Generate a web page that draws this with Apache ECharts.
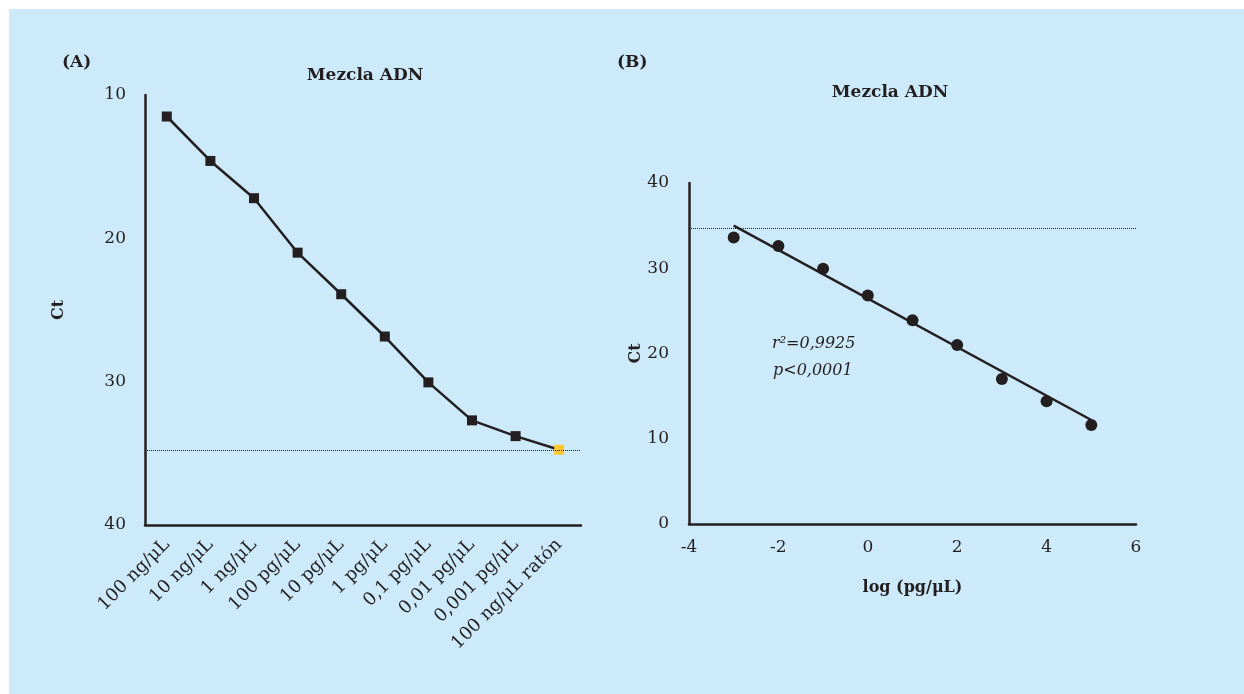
<!DOCTYPE html>
<html>
<head>
<meta charset="utf-8">
<script src="https://cdn.jsdelivr.net/npm/echarts@6/dist/echarts.min.js"></script>
<style>
html,body{margin:0;padding:0;background:#ffffff;}
#chart{width:1244px;height:694px;}
</style>
</head>
<body>
<div id="chart"></div>
<script>
// Panel A data
const categoriesA = ['100 ng/μL','10 ng/μL','1 ng/μL','100 pg/μL','10 pg/μL','1 pg/μL','0,1 pg/μL','0,01 pg/μL','0,001 pg/μL','100 ng/μL ratón'];
const ctA = [11.5, 14.6, 17.2, 21.0, 23.9, 26.85, 30.05, 32.7, 33.8, 34.75];
const cutoffA = 34.8;
// Panel B data
const logB = [-3, -2, -1, 0, 1, 2, 3, 4, 5];
const ctB = [33.6, 32.6, 29.95, 26.8, 23.9, 21.0, 17.0, 14.4, 11.6];
const fitX = [-3, 5];
const fitY = [35.0, 12.2];
const cutoffB = 34.7;
const statsText = ['r²=0,9925', 'p<0,0001'];

const ink = '#231f20';
const bg = '#cdeafa';
const serif = 'DejaVu Serif';

const chart = echarts.init(document.getElementById('chart'), null, {renderer: 'canvas'});

const dataA = ctA.map((v, i) => i === ctA.length - 1
  ? {value: v, itemStyle: {color: '#fdc82f'}}
  : v);

const option = {
  backgroundColor: '#ffffff',
  animation: false,
  textStyle: {fontFamily: serif, color: ink},
  graphic: [
    {type: 'rect', z: -10, shape: {x: 9, y: 9, width: 1235, height: 685}, style: {fill: bg}, silent: true},
    {type: 'text', left: 772, top: 336, style: {text: statsText[0], font: 'italic 16px "DejaVu Serif"', fill: ink}},
    {type: 'text', left: 773, top: 363, style: {text: statsText[1], font: 'italic 16px "DejaVu Serif"', fill: ink}}
  ],
  title: [
    {text: '(A)', left: 62, top: 54, padding: 0, textStyle: {fontFamily: serif, fontWeight: 'bold', fontSize: 17, color: ink}},
    {text: 'Mezcla ADN', left: 365, top: 67, padding: 0, textAlign: 'center', textStyle: {fontFamily: serif, fontWeight: 'bold', fontSize: 17, color: ink}},
    {text: '(B)', left: 617, top: 54, padding: 0, textStyle: {fontFamily: serif, fontWeight: 'bold', fontSize: 17, color: ink}},
    {text: 'Mezcla ADN', left: 890, top: 84, padding: 0, textAlign: 'center', textStyle: {fontFamily: serif, fontWeight: 'bold', fontSize: 17, color: ink}}
  ],
  grid: [
    {left: 145, top: 95, width: 436, height: 430, containLabel: false},
    {left: 689, top: 183, width: 447, height: 341, containLabel: false}
  ],
  xAxis: [
    {
      gridIndex: 0, type: 'category', data: categoriesA, boundaryGap: true,
      axisLine: {lineStyle: {color: ink, width: 2.5}},
      axisTick: {show: false},
      axisLabel: {rotate: 45, interval: 0, margin: 17, fontSize: 18, fontFamily: serif, color: ink},
      splitLine: {show: false}
    },
    {
      gridIndex: 1, type: 'value', min: -4, max: 6, interval: 2,
      name: 'log (pg/μL)', nameLocation: 'middle', nameGap: 56,
      nameTextStyle: {fontFamily: serif, fontWeight: 'bold', fontSize: 16, color: ink},
      axisLine: {onZero: false, lineStyle: {color: ink, width: 2.5}},
      axisTick: {show: false},
      axisLabel: {margin: 15, fontSize: 17, fontFamily: serif, color: ink},
      splitLine: {show: false}
    }
  ],
  yAxis: [
    {
      gridIndex: 0, type: 'value', inverse: true, min: 10, max: 40, interval: 10,
      name: 'Ct', nameLocation: 'middle', nameGap: 78,
      nameTextStyle: {fontFamily: serif, fontWeight: 'bold', fontSize: 16, color: ink},
      axisLine: {show: true, lineStyle: {color: ink, width: 2.5}},
      axisTick: {show: false},
      axisLabel: {margin: 19, fontSize: 17, fontFamily: serif, color: ink},
      splitLine: {show: false}
    },
    {
      gridIndex: 1, type: 'value', min: 0, max: 40, interval: 10,
      name: 'Ct', nameLocation: 'middle', nameGap: 36,
      nameTextStyle: {fontFamily: serif, fontWeight: 'bold', fontSize: 16, color: ink},
      axisLine: {show: true, onZero: false, lineStyle: {color: ink, width: 2.5}},
      axisTick: {show: false},
      axisLabel: {margin: 20, fontSize: 17, fontFamily: serif, color: ink},
      splitLine: {show: false}
    }
  ],
  series: [
    {
      type: 'line', xAxisIndex: 0, yAxisIndex: 0, data: dataA,
      symbol: 'rect', symbolSize: 10,
      lineStyle: {color: ink, width: 2.5},
      itemStyle: {color: ink, opacity: 1},
      z: 3,
      markLine: {
        silent: true, symbol: 'none', label: {show: false},
        lineStyle: {type: 'dotted', color: ink, width: 1},
        data: [{yAxis: cutoffA}]
      }
    },
    {
      type: 'scatter', xAxisIndex: 1, yAxisIndex: 1,
      data: logB.map((x, i) => [x, ctB[i]]),
      symbol: 'circle', symbolSize: 12,
      itemStyle: {color: ink, opacity: 1},
      z: 3
    },
    {
      type: 'line', xAxisIndex: 1, yAxisIndex: 1,
      data: fitX.map((x, i) => [x, fitY[i]]),
      showSymbol: false, symbol: 'none',
      lineStyle: {color: ink, width: 2.5},
      markLine: {
        silent: true, symbol: 'none', label: {show: false},
        lineStyle: {type: 'dotted', color: ink, width: 1},
        data: [{yAxis: cutoffB}]
      }
    }
  ]
};
chart.setOption(option);
</script>
</body>
</html>
